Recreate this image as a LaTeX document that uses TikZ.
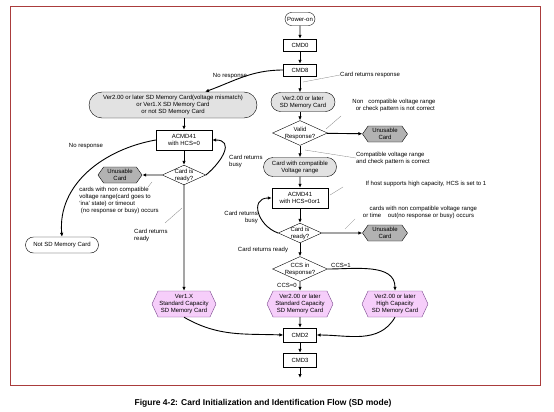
\documentclass[tikz,border=0pt]{standalone}
\usepackage{fontspec}
\setmainfont{Liberation Sans}
\usetikzlibrary{shapes.geometric,shapes.misc,shapes.symbols,arrows.meta}
\definecolor{framered}{RGB}{170,60,60}
\definecolor{cardgray}{RGB}{226,226,226}
\definecolor{badgray}{RGB}{178,178,178}
\definecolor{capfill}{RGB}{246,206,250}
\definecolor{capline}{RGB}{120,70,140}
\definecolor{notegray}{RGB}{130,130,130}
\begin{document}
\begin{tikzpicture}[
  x=1pt, y=1pt,
  font=\fontsize{6}{7}\selectfont,
  cmd/.style={draw, fill=white, minimum width=33pt, minimum height=12pt, inner sep=0pt},
  acmd/.style={draw, fill=white, align=center, minimum width=56pt, minimum height=20pt, inner sep=0pt},
  state/.style={rounded rectangle, draw, fill=cardgray, align=center, inner sep=1pt},
  check/.style={diamond, draw, fill=white, align=center, aspect=2.2, inner sep=-0.5pt},
  badcard/.style={signal, signal to=east and west, signal pointer angle=110, draw, fill=badgray, align=center, minimum width=45pt, minimum height=16pt, inner sep=0pt},
  goodcard/.style={signal, signal to=east and west, signal pointer angle=130, draw=capline, fill=capfill, align=center, minimum width=66pt, minimum height=26pt, inner sep=0pt},
  note/.style={align=left, inner sep=0pt},
  leader/.style={draw=notegray, line width=0.3pt},
  arrow/.style={-{Latex[length=4pt,width=3.5pt]}, line width=0.9pt}
]
\useasboundingbox (0,0) rectangle (554,-412);
\draw[framered, line width=0.8pt] (10,-6) rectangle (540,-385);

% main column
\node[state, fill=white, minimum width=32pt, minimum height=13pt] (pwr) at (300,-19) {Power-on};
\node[cmd] (cmd0) at (300,-45) {CMD0};
\node[cmd] (cmd8) at (300,-70) {CMD8};
\node[state, minimum width=66pt, minimum height=19pt] (ver2) at (303,-102) {Ver2.00 or later\\SD Memory Card};
\node[check] (valid) at (300,-133) {Valid\\Response?};
\node[badcard] (bad1) at (385,-134) {Unusable\\Card};
\node[state, minimum width=75pt, minimum height=19pt] (compat) at (300,-167) {Card with compatible\\Voltage range};
\node[acmd] (acmd1) at (300,-198) {ACMD41\\with HCS=0or1};
\node[check] (ready1) at (300,-233) {Card is\\ready?};
\node[badcard] (bad2) at (385,-233) {Unusable\\Card};
\node[check] (ccs) at (300,-269) {CCS in\\Response?};
\node[goodcard] (std2) at (300,-304) {Ver2.00 or later\\Standard Capacity\\SD Memory Card};
\node[goodcard] (high2) at (395,-304) {Ver2.00 or later\\High Capacity\\SD Memory Card};
\node[cmd, minimum height=14pt] (cmd2) at (300,-335) {CMD2};
\node[cmd, minimum height=14pt] (cmd3) at (300,-360) {CMD3};
\coordinate (next) at (300,-378);

% left column
\node[state, minimum width=170pt, minimum height=26pt] (mism) at (173,-105) {Ver2.00 or later SD Memory Card(voltage mismatch)\\or Ver1.X SD Memory Card\\or not SD Memory Card};
\node[acmd] (acmd0) at (184,-140) {ACMD41\\with HCS=0};
\node[check] (ready0) at (184,-175) {Card is\\ready?};
\node[badcard, minimum width=44pt] (bad0) at (120,-175) {Unusable\\Card};
\node[goodcard, minimum width=64pt] (std1) at (184,-304) {Ver1.X\\Standard Capacity\\SD Memory Card};
\node[state, fill=white, minimum width=75pt, minimum height=16pt] (notsd) at (62,-245) {Not SD Memory Card};

% labels
\node (lnoresp) at (230,-76) {No response};
\node[note, anchor=west] (lresp) at (340,-75) {Card returns response};
\node[note] (lnoncomp) at (394,-105) {Non\ \ \ compatible voltage range\\\ \ or check pattern is not correct};
\node[note] (lcomp) at (393,-158) {Compatible voltage range\\and check pattern is correct};
\node[note] (lhcs) at (426,-184) {If host supports high capacity, HCS is set to 1};
\node[note] (lbad2) at (420,-212) {\ \ \ \ cards with non compatible voltage range\\or time\ \ \ \ out(no response or busy) occurs};
\node[note, align=right, anchor=east] (lbusy1) at (258,-217) {Card returns\\busy};
\node (lready1) at (263,-250) {Card returns ready};
\node (lccs1) at (341,-265) {CCS=1};
\node (lccs0) at (287,-285) {CCS=0};
\node[note, anchor=west] (lbusy0) at (229,-161) {Card returns\\busy};
\node (lnoresp0) at (86,-146) {No response};
\node[note] (lbad0) at (119,-200) {cards with non compatible\\voltage range(card goes to\\`ina' state) or timeout\\\ (no response or busy) occurs};
\node[note, anchor=west] (lready0) at (134,-235) {Card returns\\ready};

% leader lines
\coordinate (t1) at (303,-82);
\draw[leader] (t1) -- (lresp.west);
\coordinate (t2) at (326,-129);
\draw[leader] (t2) -- (341,-116);
\coordinate (t3) at (305,-150);
\draw[leader] (t3) -- (lcomp.west);
\coordinate (t4) at (330,-195);
\draw[leader] (t4) -- (343,-187);
\coordinate (t5) at (345,-229);
\draw[leader] (t5) -- (355,-219);
\coordinate (t6) at (148,-187);
\draw[leader] (t6) -- (152,-182);
\coordinate (t7) at (165,-223);
\draw[leader] (t7) -- (182,-208);

% arrows
\draw[arrow] (pwr) -- (cmd0);
\draw[arrow] (cmd0) -- (cmd8);
\draw[arrow] (cmd8) -- (cmd8 |- ver2.north);
\draw[arrow] (cmd8.west) to[out=180, in=20] ([xshift=32pt]mism.north);
\draw[arrow] (ver2.south -| valid) -- (valid);
\draw[arrow] (valid) -- (bad1);
\draw[arrow] (valid) -- (compat);
\draw[arrow] (compat) -- (acmd1);
\draw[arrow] (acmd1) -- (ready1);
\draw[arrow] (ready1.west) to[out=160, in=180, looseness=1.6] (acmd1.west);
\draw[arrow] (ready1) -- (bad2);
\draw[arrow] (ready1) -- (ccs);
\draw[arrow] (ccs) -- (std2);
\draw[arrow] (ccs.east) to[out=0, in=90] (high2.north);
\draw[arrow] (std2) -- (cmd2);
\draw[arrow] (high2.south) to[out=-120, in=0] (cmd2.east);
\draw[arrow] (cmd2) -- (cmd3);
\draw[arrow] (cmd3) -- (next);

\draw[arrow] (mism.south -| acmd0) -- (acmd0);
\draw[arrow] (acmd0) -- (ready0);
\draw[arrow] (ready0.east) to[out=40, in=0, looseness=1.6] (acmd0.east);
\draw[arrow] (ready0) -- (bad0);
\draw[arrow] (ready0) -- (std1);
\draw[arrow] (acmd0.west) to[out=190, in=95] (notsd.north);
\draw[arrow] (std1.south) to[out=-30, in=178] (cmd2.west);

\node[font=\bfseries\fontsize{8.5}{10}\selectfont] (caption) at (263,-403) {Figure 4-2: Card Initialization and Identification Flow (SD mode)};
\end{tikzpicture}
\end{document}
